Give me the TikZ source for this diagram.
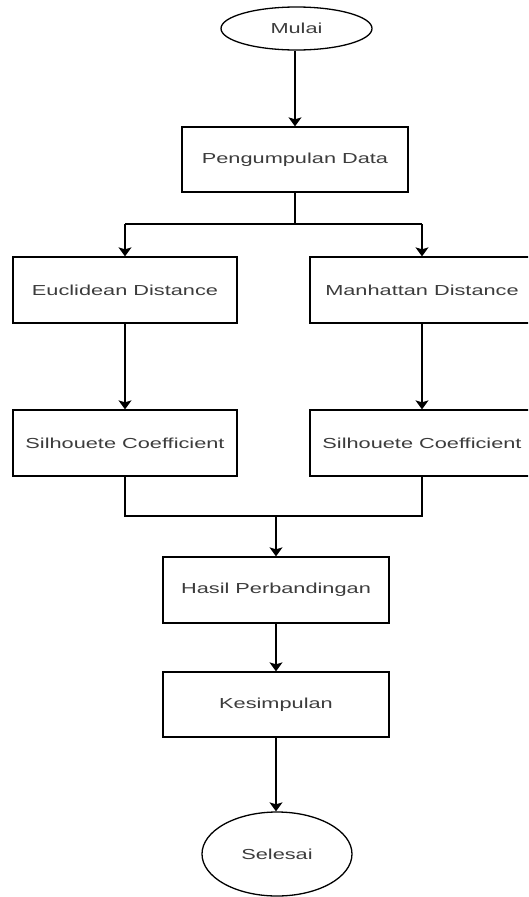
\documentclass[tikz,border=0pt]{standalone}
\usepackage{fontspec}
\setmainfont{Liberation Sans}[FakeStretch=1.5]
\usetikzlibrary{arrows.meta}
\definecolor{txt}{HTML}{3C3C3C}
\tikzset{
  box/.style={draw=black, line width=1.3pt, minimum width=224pt, minimum height=66pt, inner sep=0pt, fill=white},
  term/.style={draw=black, line width=1.3pt, ellipse, inner sep=0pt, fill=white},
  lbl/.style={text=txt, font=\fontsize{14.5}{16}\selectfont},
  conn/.style={draw=black, line width=1.3pt},
  arr/.style={conn, -{Stealth[width=13pt,length=9pt,inset=2pt]}},
}
\usetikzlibrary{shapes.geometric}
\begin{document}
\begin{tikzpicture}[x=1pt,y=-1pt]
\useasboundingbox (0,0) rectangle (528,897);
\clip (0,0) rectangle (528,897);
\fill[white] (0,0) rectangle (528,897);
% nodes
\node[term, minimum width=151pt, minimum height=43pt, lbl] (mulai) at (296.5,28.5) {Mulai};
\node[box, lbl, minimum width=226pt, minimum height=65pt] (data) at (295,159.5) {Pengumpulan Data};
\node[box, lbl] (eu) at (125,290) {Euclidean Distance};
\node[box, lbl] (ma) at (422,290) {Manhattan Distance};
\node[box, lbl] (sl) at (125,443) {Silhouete Coefficient};
\node[box, lbl] (sr) at (422,443) {Silhouete Coefficient};
\node[box, lbl, minimum width=226pt] (hasil) at (276,590) {Hasil Perbandingan};
\node[box, lbl, minimum width=226pt, minimum height=65pt] (kes) at (276,704.5) {Kesimpulan};
\node[term, minimum width=150pt, minimum height=84pt, lbl] (sel) at (277,854) {Selesai};
% coordinates
\coordinate (split) at (295,224);
\coordinate (splitL) at (125,224);
\coordinate (splitR) at (422,224);
\coordinate (mergeL) at (125,516);
\coordinate (mergeR) at (422,516);
\coordinate (merge) at (276,516);
% connectors
\draw[arr] (mulai.south -| data.north) -- (data.north);
\draw[conn] (data.south) -- (split);
\draw[conn] (splitL) -- (splitR);
\draw[arr] (splitL) -- (eu.north);
\draw[arr] (splitR) -- (ma.north);
\draw[arr] (eu.south) -- (sl.north);
\draw[arr] (ma.south) -- (sr.north);
\draw[conn] (sl.south) -- (mergeL) -- (mergeR) -- (sr.south);
\draw[arr] (merge) -- (hasil.north);
\draw[arr] (hasil.south) -- (kes.north);
\draw[arr] (kes.south) -- (kes.south |- sel.north);
\end{tikzpicture}
\end{document}
